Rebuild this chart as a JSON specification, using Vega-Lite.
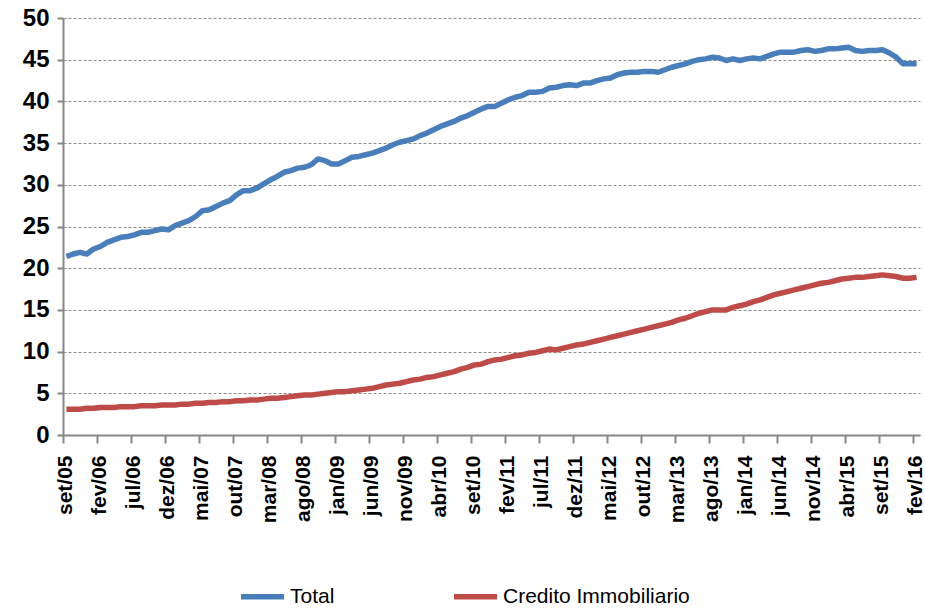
{
  "$schema": "https://vega.github.io/schema/vega-lite/v6.json",
  "autosize": {"type": "none"},
  "width": 857,
  "height": 417,
  "padding": {"left": 63, "top": 18, "right": 5, "bottom": 173},
  "background": "white",
  "config": {
    "view": {"stroke": null},
    "font": "Liberation Sans"
  },
  "data": {
    "values": [
      {"mes":"set/05","Total":21.4,"Credito Immobiliario":3.1},
      {"mes":"out/05","Total":21.7,"Credito Immobiliario":3.1},
      {"mes":"nov/05","Total":21.9,"Credito Immobiliario":3.1},
      {"mes":"dez/05","Total":21.7,"Credito Immobiliario":3.2},
      {"mes":"jan/06","Total":22.3,"Credito Immobiliario":3.2},
      {"mes":"fev/06","Total":22.6,"Credito Immobiliario":3.3},
      {"mes":"mar/06","Total":23.1,"Credito Immobiliario":3.3},
      {"mes":"abr/06","Total":23.4,"Credito Immobiliario":3.3},
      {"mes":"mai/06","Total":23.7,"Credito Immobiliario":3.4},
      {"mes":"jun/06","Total":23.8,"Credito Immobiliario":3.4},
      {"mes":"jul/06","Total":24.0,"Credito Immobiliario":3.4},
      {"mes":"ago/06","Total":24.3,"Credito Immobiliario":3.5},
      {"mes":"set/06","Total":24.3,"Credito Immobiliario":3.5},
      {"mes":"out/06","Total":24.5,"Credito Immobiliario":3.5},
      {"mes":"nov/06","Total":24.7,"Credito Immobiliario":3.6},
      {"mes":"dez/06","Total":24.6,"Credito Immobiliario":3.6},
      {"mes":"jan/07","Total":25.1,"Credito Immobiliario":3.6},
      {"mes":"fev/07","Total":25.4,"Credito Immobiliario":3.7},
      {"mes":"mar/07","Total":25.7,"Credito Immobiliario":3.7},
      {"mes":"abr/07","Total":26.2,"Credito Immobiliario":3.8},
      {"mes":"mai/07","Total":26.9,"Credito Immobiliario":3.8},
      {"mes":"jun/07","Total":27.0,"Credito Immobiliario":3.9},
      {"mes":"jul/07","Total":27.4,"Credito Immobiliario":3.9},
      {"mes":"ago/07","Total":27.8,"Credito Immobiliario":4.0},
      {"mes":"set/07","Total":28.1,"Credito Immobiliario":4.0},
      {"mes":"out/07","Total":28.8,"Credito Immobiliario":4.1},
      {"mes":"nov/07","Total":29.3,"Credito Immobiliario":4.1},
      {"mes":"dez/07","Total":29.3,"Credito Immobiliario":4.2},
      {"mes":"jan/08","Total":29.6,"Credito Immobiliario":4.2},
      {"mes":"fev/08","Total":30.1,"Credito Immobiliario":4.3},
      {"mes":"mar/08","Total":30.6,"Credito Immobiliario":4.4},
      {"mes":"abr/08","Total":31.0,"Credito Immobiliario":4.4},
      {"mes":"mai/08","Total":31.5,"Credito Immobiliario":4.5},
      {"mes":"jun/08","Total":31.7,"Credito Immobiliario":4.6},
      {"mes":"jul/08","Total":32.0,"Credito Immobiliario":4.7},
      {"mes":"ago/08","Total":32.1,"Credito Immobiliario":4.8},
      {"mes":"set/08","Total":32.4,"Credito Immobiliario":4.8},
      {"mes":"out/08","Total":33.1,"Credito Immobiliario":4.9},
      {"mes":"nov/08","Total":32.9,"Credito Immobiliario":5.0},
      {"mes":"dez/08","Total":32.5,"Credito Immobiliario":5.1},
      {"mes":"jan/09","Total":32.5,"Credito Immobiliario":5.2},
      {"mes":"fev/09","Total":32.9,"Credito Immobiliario":5.2},
      {"mes":"mar/09","Total":33.3,"Credito Immobiliario":5.3},
      {"mes":"abr/09","Total":33.4,"Credito Immobiliario":5.4},
      {"mes":"mai/09","Total":33.6,"Credito Immobiliario":5.5},
      {"mes":"jun/09","Total":33.8,"Credito Immobiliario":5.6},
      {"mes":"jul/09","Total":34.1,"Credito Immobiliario":5.8},
      {"mes":"ago/09","Total":34.4,"Credito Immobiliario":6.0},
      {"mes":"set/09","Total":34.8,"Credito Immobiliario":6.1},
      {"mes":"out/09","Total":35.1,"Credito Immobiliario":6.2},
      {"mes":"nov/09","Total":35.3,"Credito Immobiliario":6.4},
      {"mes":"dez/09","Total":35.5,"Credito Immobiliario":6.6},
      {"mes":"jan/10","Total":35.9,"Credito Immobiliario":6.7},
      {"mes":"fev/10","Total":36.2,"Credito Immobiliario":6.9},
      {"mes":"mar/10","Total":36.6,"Credito Immobiliario":7.0},
      {"mes":"abr/10","Total":37.0,"Credito Immobiliario":7.2},
      {"mes":"mai/10","Total":37.3,"Credito Immobiliario":7.4},
      {"mes":"jun/10","Total":37.6,"Credito Immobiliario":7.6},
      {"mes":"jul/10","Total":38.0,"Credito Immobiliario":7.9},
      {"mes":"ago/10","Total":38.3,"Credito Immobiliario":8.1},
      {"mes":"set/10","Total":38.7,"Credito Immobiliario":8.4},
      {"mes":"out/10","Total":39.1,"Credito Immobiliario":8.5},
      {"mes":"nov/10","Total":39.4,"Credito Immobiliario":8.8},
      {"mes":"dez/10","Total":39.4,"Credito Immobiliario":9.0},
      {"mes":"jan/11","Total":39.8,"Credito Immobiliario":9.1},
      {"mes":"fev/11","Total":40.2,"Credito Immobiliario":9.3},
      {"mes":"mar/11","Total":40.5,"Credito Immobiliario":9.5},
      {"mes":"abr/11","Total":40.7,"Credito Immobiliario":9.6},
      {"mes":"mai/11","Total":41.1,"Credito Immobiliario":9.8},
      {"mes":"jun/11","Total":41.1,"Credito Immobiliario":9.9},
      {"mes":"jul/11","Total":41.2,"Credito Immobiliario":10.1},
      {"mes":"ago/11","Total":41.6,"Credito Immobiliario":10.3},
      {"mes":"set/11","Total":41.7,"Credito Immobiliario":10.2},
      {"mes":"out/11","Total":41.9,"Credito Immobiliario":10.4},
      {"mes":"nov/11","Total":42.0,"Credito Immobiliario":10.6},
      {"mes":"dez/11","Total":41.9,"Credito Immobiliario":10.8},
      {"mes":"jan/12","Total":42.2,"Credito Immobiliario":10.9},
      {"mes":"fev/12","Total":42.2,"Credito Immobiliario":11.1},
      {"mes":"mar/12","Total":42.5,"Credito Immobiliario":11.3},
      {"mes":"abr/12","Total":42.7,"Credito Immobiliario":11.5},
      {"mes":"mai/12","Total":42.8,"Credito Immobiliario":11.7},
      {"mes":"jun/12","Total":43.2,"Credito Immobiliario":11.9},
      {"mes":"jul/12","Total":43.4,"Credito Immobiliario":12.1},
      {"mes":"ago/12","Total":43.5,"Credito Immobiliario":12.3},
      {"mes":"set/12","Total":43.5,"Credito Immobiliario":12.5},
      {"mes":"out/12","Total":43.6,"Credito Immobiliario":12.7},
      {"mes":"nov/12","Total":43.6,"Credito Immobiliario":12.9},
      {"mes":"dez/12","Total":43.5,"Credito Immobiliario":13.1},
      {"mes":"jan/13","Total":43.8,"Credito Immobiliario":13.3},
      {"mes":"fev/13","Total":44.1,"Credito Immobiliario":13.5},
      {"mes":"mar/13","Total":44.3,"Credito Immobiliario":13.8},
      {"mes":"abr/13","Total":44.5,"Credito Immobiliario":14.0},
      {"mes":"mai/13","Total":44.8,"Credito Immobiliario":14.3},
      {"mes":"jun/13","Total":45.0,"Credito Immobiliario":14.6},
      {"mes":"jul/13","Total":45.1,"Credito Immobiliario":14.8},
      {"mes":"ago/13","Total":45.3,"Credito Immobiliario":15.0},
      {"mes":"set/13","Total":45.2,"Credito Immobiliario":15.0},
      {"mes":"out/13","Total":44.9,"Credito Immobiliario":15.0},
      {"mes":"nov/13","Total":45.1,"Credito Immobiliario":15.3},
      {"mes":"dez/13","Total":44.9,"Credito Immobiliario":15.5},
      {"mes":"jan/14","Total":45.1,"Credito Immobiliario":15.7},
      {"mes":"fev/14","Total":45.2,"Credito Immobiliario":16.0},
      {"mes":"mar/14","Total":45.1,"Credito Immobiliario":16.2},
      {"mes":"abr/14","Total":45.4,"Credito Immobiliario":16.5},
      {"mes":"mai/14","Total":45.7,"Credito Immobiliario":16.8},
      {"mes":"jun/14","Total":45.9,"Credito Immobiliario":17.0},
      {"mes":"jul/14","Total":45.9,"Credito Immobiliario":17.2},
      {"mes":"ago/14","Total":45.9,"Credito Immobiliario":17.4},
      {"mes":"set/14","Total":46.1,"Credito Immobiliario":17.6},
      {"mes":"out/14","Total":46.2,"Credito Immobiliario":17.8},
      {"mes":"nov/14","Total":46.0,"Credito Immobiliario":18.0},
      {"mes":"dez/14","Total":46.1,"Credito Immobiliario":18.2},
      {"mes":"jan/15","Total":46.3,"Credito Immobiliario":18.3},
      {"mes":"fev/15","Total":46.3,"Credito Immobiliario":18.5},
      {"mes":"mar/15","Total":46.4,"Credito Immobiliario":18.7},
      {"mes":"abr/15","Total":46.5,"Credito Immobiliario":18.8},
      {"mes":"mai/15","Total":46.1,"Credito Immobiliario":18.9},
      {"mes":"jun/15","Total":46.0,"Credito Immobiliario":18.9},
      {"mes":"jul/15","Total":46.1,"Credito Immobiliario":19.0},
      {"mes":"ago/15","Total":46.1,"Credito Immobiliario":19.1},
      {"mes":"set/15","Total":46.2,"Credito Immobiliario":19.2},
      {"mes":"out/15","Total":45.8,"Credito Immobiliario":19.1},
      {"mes":"nov/15","Total":45.3,"Credito Immobiliario":19.0},
      {"mes":"dez/15","Total":44.5,"Credito Immobiliario":18.8},
      {"mes":"jan/16","Total":44.5,"Credito Immobiliario":18.8},
      {"mes":"fev/16","Total":44.5,"Credito Immobiliario":18.9}
    ]
  },
  "transform": [
    {"fold": ["Total", "Credito Immobiliario"], "as": ["serie", "valor"]}
  ],
  "mark": {"type": "line", "strokeWidth": 5.5, "strokeCap": "butt", "strokeJoin": "round"},
  "encoding": {
    "x": {
      "field": "mes",
      "type": "ordinal",
      "sort": null,
      "scale": {"type": "point", "padding": 0.5},
      "axis": {
        "title": null,
        "values": ["set/05","fev/06","jul/06","dez/06","mai/07","out/07","mar/08","ago/08","jan/09","jun/09","nov/09","abr/10","set/10","fev/11","jul/11","dez/11","mai/12","out/12","mar/13","ago/13","jan/14","jun/14","nov/14","abr/15","set/15","fev/16"],
        "labelAngle": -90,
        "labelAlign": "right",
        "labelBaseline": "middle",
        "labelFont": "Liberation Sans",
        "labelFontSize": 21,
        "labelFontWeight": "bold",
        "labelColor": "#000000",
        "labelPadding": 12,
        "tickOffset": -3.4,
        "labelOffset": 2,
        "tickSize": 8,
        "tickWidth": 2,
        "tickColor": "#878787",
        "domainColor": "#878787",
        "domainWidth": 2,
        "grid": false,
        "labelOverlap": false
      }
    },
    "y": {
      "field": "valor",
      "type": "quantitative",
      "scale": {"domain": [0, 50], "nice": false},
      "axis": {
        "title": null,
        "values": [0,5,10,15,20,25,30,35,40,45,50],
        "labelFont": "Liberation Sans",
        "labelFontSize": 24,
        "labelFontWeight": "bold",
        "labelColor": "#000000",
        "labelPadding": 8,
        "tickSize": 6,
        "tickWidth": 2,
        "tickColor": "#878787",
        "domainColor": "#878787",
        "domainWidth": 2,
        "grid": true,
        "gridColor": "#8c8c8c",
        "gridDash": [3, 2],
        "gridWidth": 1
      }
    },
    "color": {
      "field": "serie",
      "type": "nominal",
      "scale": {"domain": ["Total", "Credito Immobiliario"], "range": ["#4A7EBB", "#BE4B48"]},
      "legend": {
        "title": null,
        "orient": "none",
        "direction": "horizontal",
        "legendX": 175,
        "legendY": 554,
        "padding": 0,
        "symbolType": "stroke",
        "symbolSize": 1849,
        "symbolStrokeWidth": 5.5,
        "labelFont": "Liberation Sans",
        "labelFontSize": 21,
        "labelColor": "#000000",
        "labelOffset": 3,
        "columnPadding": 108,
        "labelLimit": 400
      }
    }
  }
}
